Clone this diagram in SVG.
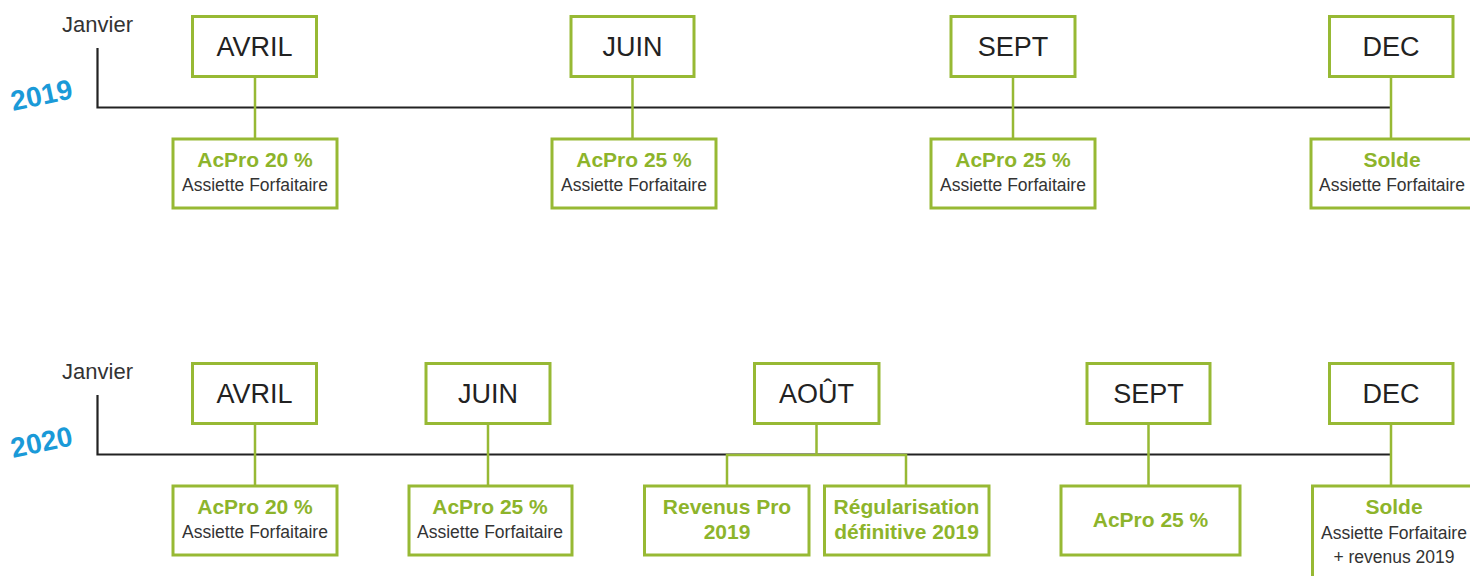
<svg xmlns="http://www.w3.org/2000/svg" width="1470" height="576" viewBox="0 0 1470 576">
<style>
.box{fill:#fff;stroke:#97b934;stroke-width:3}
.con{fill:none;stroke:#97b934;stroke-width:2.5}
.axis{fill:none;stroke:#222;stroke-width:2.2}
.month{font-family:"Liberation Sans",Arial,sans-serif;font-size:27px;fill:#222;text-anchor:middle}
.jan{font-family:"Liberation Sans",Arial,sans-serif;font-size:22px;fill:#333;text-anchor:middle}
.year{font-family:"Liberation Sans",Arial,sans-serif;font-size:28px;font-weight:bold;fill:#1a9ad8}
.g{font-family:"Liberation Sans",Arial,sans-serif;font-size:21px;font-weight:bold;fill:#8db42b;text-anchor:middle}
.d{font-family:"Liberation Sans",Arial,sans-serif;font-size:17.5px;fill:#333;text-anchor:middle}
</style>
<rect width="1470" height="576" fill="#fff"/>
<g id="connectors">
<path class="axis" d="M97.5 48 V107.5 H1391"/>
<path class="axis" d="M97.5 395 V454.5 H1391"/>
<path class="con" d="M255 77 V139 M632.5 77 V139 M1013 77 V139 M1391 77 V139"/>
<path class="con" d="M255 424 V486 M488 424 V486 M1148.5 424 V486 M1391 424 V486"/>
<path class="con" d="M816.5 423 V455 M727 486 V455 H906 V486"/>
</g>
<g id="labels">
<text class="jan" x="97.5" y="32">Janvier</text>
<text class="jan" x="97.5" y="379">Janvier</text>
<text class="year" transform="translate(13 111) rotate(-12)">2019</text>
<text class="year" transform="translate(13 458) rotate(-12)">2020</text>
</g>
<g id="m2019-avril"><rect class="box" x="192.5" y="16.5" width="124" height="60"/><text class="month" x="254.5" y="56">AVRIL</text></g>
<g id="m2019-juin"><rect class="box" x="571" y="16.5" width="123" height="60"/><text class="month" x="632.5" y="56">JUIN</text></g>
<g id="m2019-sept"><rect class="box" x="951" y="16.5" width="124" height="60"/><text class="month" x="1013" y="56">SEPT</text></g>
<g id="m2019-dec"><rect class="box" x="1329.5" y="16.5" width="123.5" height="60"/><text class="month" x="1391" y="56">DEC</text></g>
<g id="p2019-avril"><rect class="box" x="173" y="139" width="164" height="69"/><text class="g" x="255" y="167">AcPro 20 %</text><text class="d" x="255" y="191">Assiette Forfaitaire</text></g>
<g id="p2019-juin"><rect class="box" x="552" y="139" width="164" height="69"/><text class="g" x="634" y="167">AcPro 25 %</text><text class="d" x="634" y="191">Assiette Forfaitaire</text></g>
<g id="p2019-sept"><rect class="box" x="931" y="139" width="164" height="69"/><text class="g" x="1013" y="167">AcPro 25 %</text><text class="d" x="1013" y="191">Assiette Forfaitaire</text></g>
<g id="p2019-dec"><rect class="box" x="1311" y="139" width="164" height="69"/><text class="g" x="1392" y="167">Solde</text><text class="d" x="1392" y="191">Assiette Forfaitaire</text></g>
<g id="m2020-avril"><rect class="box" x="192.5" y="363.5" width="124" height="60"/><text class="month" x="254.5" y="403">AVRIL</text></g>
<g id="m2020-juin"><rect class="box" x="426" y="363.5" width="124" height="60"/><text class="month" x="488" y="403">JUIN</text></g>
<g id="m2020-aout"><rect class="box" x="754.5" y="363.5" width="124.5" height="60"/><text class="month" x="816.5" y="403">AOÛT</text></g>
<g id="m2020-sept"><rect class="box" x="1087" y="363.5" width="123" height="60"/><text class="month" x="1148.5" y="403">SEPT</text></g>
<g id="m2020-dec"><rect class="box" x="1329.5" y="363.5" width="123.5" height="60"/><text class="month" x="1391" y="403">DEC</text></g>
<g id="p2020-avril"><rect class="box" x="173" y="486" width="164" height="69"/><text class="g" x="255" y="514">AcPro 20 %</text><text class="d" x="255" y="538">Assiette Forfaitaire</text></g>
<g id="p2020-juin"><rect class="box" x="409" y="486" width="163" height="69"/><text class="g" x="490" y="514">AcPro 25 %</text><text class="d" x="490" y="538">Assiette Forfaitaire</text></g>
<g id="p2020-revenus"><rect class="box" x="644.5" y="486" width="164.5" height="69"/><text class="g" x="727" y="514">Revenus Pro</text><text class="g" x="727" y="539">2019</text></g>
<g id="p2020-regul"><rect class="box" x="824.5" y="486" width="164.5" height="69"/><text class="g" x="906.5" y="514">Régularisation</text><text class="g" x="906.5" y="539">définitive 2019</text></g>
<g id="p2020-sept"><rect class="box" x="1061" y="486" width="179" height="69"/><text class="g" x="1150.5" y="527">AcPro 25 %</text></g>
<g id="p2020-dec"><rect class="box" x="1312.5" y="486" width="170" height="110"/><text class="g" x="1394" y="514">Solde</text><text class="d" x="1394" y="539">Assiette Forfaitaire</text><text class="d" x="1394" y="563">+ revenus 2019</text></g>
</svg>
